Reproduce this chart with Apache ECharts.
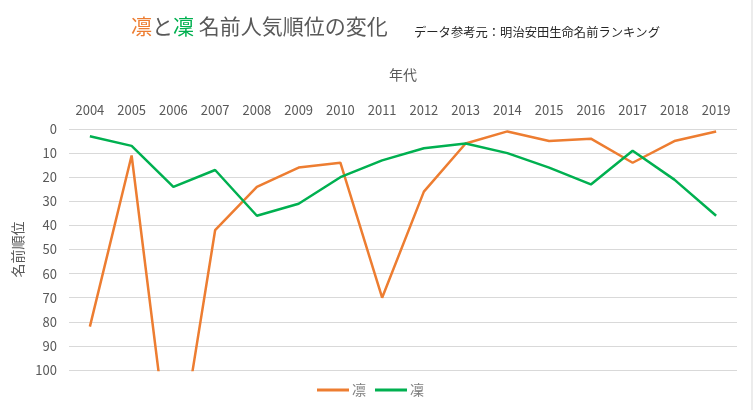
<!DOCTYPE html>
<html><head><meta charset="utf-8">
<script src="https://cdn.jsdelivr.net/npm/echarts@6/dist/echarts.min.js"></script>
<style>html,body{margin:0;padding:0;background:#fff}#c{width:753px;height:410px}</style>
</head><body><div id="c"></div>
<script>
const years = ['2004','2005','2006','2007','2008','2009','2010','2011','2012','2013','2014','2015','2016','2017','2018','2019'];
const rin1 = [82, 11, 150, 42, 24, 16, 14, 70, 26, 6, 1, 5, 4, 14, 5, 1];   // 凛
const rin2 = [3, 7, 24, 17, 36, 31, 20, 13, 8, 6, 10, 16, 23, 9, 21, 36];   // 凜
const yTicks = [0, 100, 10];
const FONT = '"Noto Sans CJK JP", "Noto Sans", sans-serif';
const chart = echarts.init(document.getElementById('c'));
chart.setOption({
  animation: false,
  textStyle: { fontFamily: FONT },
  title: [{
    left: 126, top: 11,
    text: '{a|凛}{b|と}{c|凜}{b| 名前人気順位の変化}',
    textStyle: { fontWeight: 'normal', rich: {
      a: { fontSize: 21, color: '#ED7D31', fontFamily: FONT, fontWeight: 'normal' },
      b: { fontSize: 21, color: '#595959', fontFamily: FONT, fontWeight: 'normal' },
      c: { fontSize: 21, color: '#00B050', fontFamily: FONT, fontWeight: 'normal' }
    } }
  }, {
    left: 409, top: 21,
    text: 'データ参考元：明治安田生命名前ランキング',
    textStyle: { fontSize: 12.3, color: '#262626', fontWeight: 'normal', fontFamily: FONT }
  }],
  legend: {
    bottom: 8, left: 312,
    icon: 'rect', itemWidth: 32, itemHeight: 3, itemGap: 9,
    textStyle: { color: '#7f7f7f', fontSize: 14, fontFamily: FONT, padding: [0, 0, 0, -2] },
    data: ['凛', '凜']
  },
  grid: { left: 69, right: 16, top: 129, bottom: 40, containLabel: false, outerBoundsMode: 'none' },
  xAxis: {
    type: 'category', data: years, position: 'top', boundaryGap: true,
    name: '年代', nameLocation: 'middle', nameGap: 47,
    nameTextStyle: { color: '#595959', fontSize: 14, fontFamily: FONT },
    axisLine: { show: false }, axisTick: { show: false },
    axisLabel: { color: '#595959', fontSize: 13, margin: 12, fontFamily: FONT }
  },
  yAxis: {
    type: 'value', inverse: true, min: yTicks[0], max: yTicks[1], interval: yTicks[2],
    name: '名前順位', nameLocation: 'middle', nameGap: 44, nameMoveOverlap: false,
    nameTextStyle: { color: '#595959', fontSize: 14, fontFamily: FONT },
    axisLine: { show: false }, axisTick: { show: false },
    axisLabel: { color: '#595959', fontSize: 13, margin: 12, fontFamily: FONT },
    splitLine: { lineStyle: { color: '#d9d9d9', width: 1 } }
  },
  series: [{
    name: '凛', type: 'line', data: rin1, symbol: 'none', clip: true,
    lineStyle: { color: '#ED7D31', width: 2.5 }, itemStyle: { color: '#ED7D31' }
  }, {
    name: '凜', type: 'line', data: rin2, symbol: 'none', clip: true,
    lineStyle: { color: '#00B050', width: 2.5 }, itemStyle: { color: '#00B050' }
  }],
  graphic: [{
    type: 'line', shape: { x1: 752, y1: 0, x2: 752, y2: 410 },
    style: { stroke: '#d9d9d9', lineWidth: 1 }
  }]
});
</script></body></html>
